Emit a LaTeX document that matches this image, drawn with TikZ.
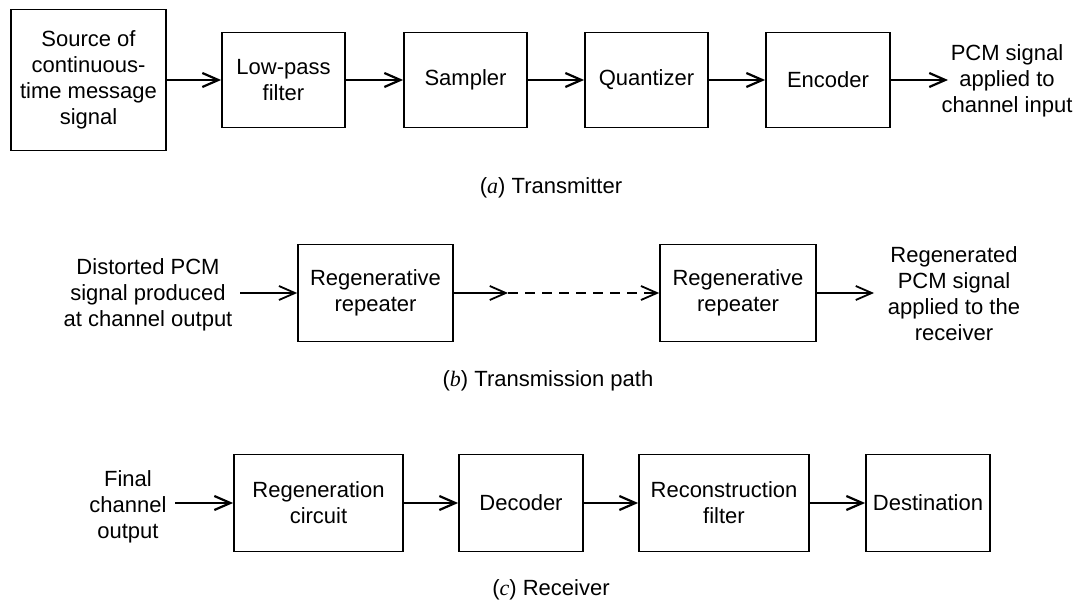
\documentclass[tikz,border=0pt]{standalone}
\usepackage{fontspec}
\setmainfont{Liberation Sans}
\newfontfamily\tms{Liberation Serif}
\usetikzlibrary{arrows.meta}
\begin{document}
\begin{tikzpicture}[x=1pt,y=-1pt,
  every node/.style={font=\fontsize{22}{26}\selectfont, align=center, inner sep=1pt},
  blk/.style={draw, line width=1.8pt, minimum height=95pt},
  arr/.style={line width=2.6pt, -{Straight Barb[length=16pt,width=14pt,line width=2.2pt]}},
  tarr/.style={line width=1.6pt, -{Straight Barb[length=16pt,width=14pt,line width=1.8pt]}},
  captxt/.style={font=\fontsize{22}{26}\selectfont}
]
\useasboundingbox (0,0) rectangle (1077,604);

% (a) Transmitter
\node[blk, minimum width=155pt, minimum height=141pt] (src) at (88.5,80) {Source of\\continuous-\\time message\\signal};
\node[blk, minimum width=123pt] (lpf) at (283.5,80) {Low-pass\\filter};
\node[blk, minimum width=123pt] (smp) at (465.5,80) {Sampler};
\node[blk, minimum width=123pt] (qnt) at (646.5,80) {Quantizer};
\node[blk, minimum width=124pt] (enc) at (828,80) {Encoder};
\node (aout) at (1007,81) {PCM signal\\applied to\\channel input};
\coordinate (aend) at (948,80);
\draw[arr] (src) -- (lpf);
\draw[arr] (lpf) -- (smp);
\draw[arr] (smp) -- (qnt);
\draw[arr] (qnt) -- (enc);
\draw[arr] (enc) -- (aend);
\node[captxt] (capa) at (551,188) {({\tms\itshape a}) Transmitter};

% (b) Transmission path
\node (bin) at (148,295) {Distorted PCM\\signal produced\\at channel output};
\coordinate (bstart) at (240,293);
\node[blk, minimum width=155pt, minimum height=97pt, line width=1.6pt] (rr1) at (375.5,293) {Regenerative\\repeater};
\node[blk, minimum width=156pt, minimum height=97pt, line width=1.6pt] (rr2) at (738,293) {Regenerative\\repeater};
\coordinate (bmid) at (508,293);
\coordinate (bend) at (874,293);
\node (bout) at (954,293.5) {Regenerated\\PCM signal\\applied to the\\receiver};
\draw[tarr] (bstart) -- (rr1);
\draw[tarr] (rr1) -- (bmid);
\draw[tarr, dash pattern=on 10pt off 7pt] (bmid) -- (rr2);
\draw[tarr] (rr2) -- (bend);
\node[captxt] (capb) at (548,381) {({\tms\itshape b}) Transmission path};

% (c) Receiver
\node (cin) at (128,507) {Final\\channel\\output};
\coordinate (cstart) at (175,503);
\node[blk, minimum width=169pt, minimum height=97pt] (rgc) at (318.5,503) {Regeneration\\circuit};
\node[blk, minimum width=124pt, minimum height=97pt] (dec) at (521,503) {Decoder};
\node[blk, minimum width=170pt, minimum height=97pt] (rcf) at (724,503) {Reconstruction\\filter};
\node[blk, minimum width=124pt, minimum height=97pt] (dst) at (928,503) {Destination};
\draw[arr] (cstart) -- (rgc);
\draw[arr] (rgc) -- (dec);
\draw[arr] (dec) -- (rcf);
\draw[arr] (rcf) -- (dst);
\node[captxt] (capc) at (551,590) {({\tms\itshape c}) Receiver};
\end{tikzpicture}
\end{document}
